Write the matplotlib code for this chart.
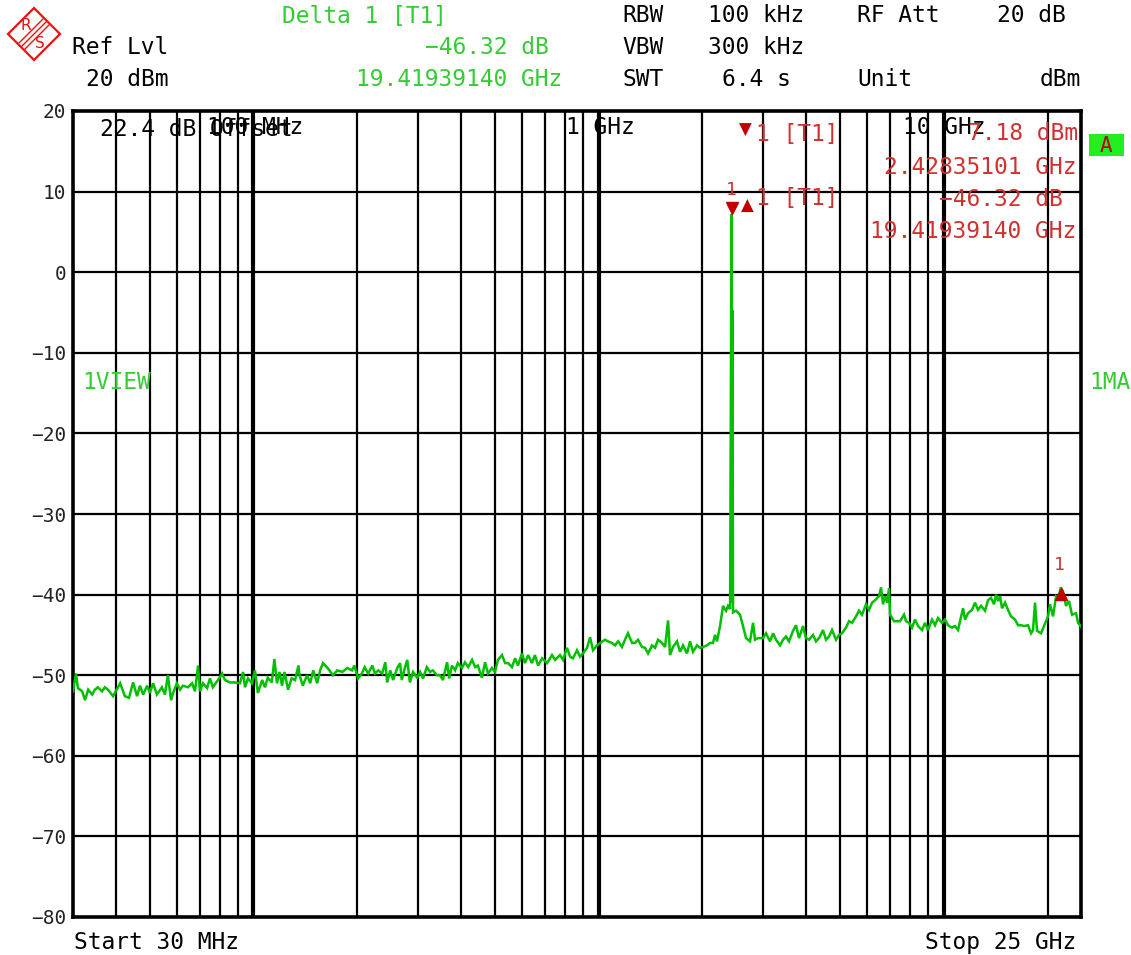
import numpy as np
import matplotlib
matplotlib.use("Agg")
import matplotlib.pyplot as plt
import matplotlib.transforms as mtransforms
from matplotlib.patches import Polygon, Rectangle

W, H = 1131, 955

# ---------------------------------------------------------------------------
# trace data (frequency in MHz, level in dBm)
# ---------------------------------------------------------------------------
freq_a = [30.0, 30.6, 31.0, 31.9, 32.5, 33.2, 34.1, 34.7, 35.4, 36.4,
          37.1, 37.9, 39.2, 41.1, 42.4, 43.6, 44.8, 46.0, 46.9, 47.9,
          49.2, 50.1, 51.2, 52.5, 54.3, 55.4, 56.5, 57.7, 58.5, 60.0,
          61.3, 62.5, 64.6, 66.4, 67.7, 69.1, 70.0, 71.4, 73.4, 74.8,
          76.3, 78.9, 81.1, 82.7, 85.5, 88.4, 91.4, 93.3, 94.5, 96.4]
level_a = [-52.0, -49.8, -51.6, -52.0, -53.1, -51.8, -52.4, -51.8, -51.5, -52.0,
           -51.5, -51.8, -52.6, -51.0, -52.6, -52.8, -50.9, -52.6, -51.3, -52.4,
           -51.3, -52.2, -51.0, -52.4, -51.5, -52.4, -50.0, -53.1, -52.2, -51.0,
           -51.8, -51.3, -51.5, -51.0, -52.0, -48.8, -52.0, -51.0, -51.6, -50.4,
           -51.5, -50.6, -49.8, -50.6, -50.9, -50.9, -51.0, -49.6, -51.5, -50.4]

freq_b = [99.0, 101, 103, 106, 108, 110, 113, 115, 117, 119,
          121, 123, 126, 129, 132, 135, 136, 139, 143, 146,
          149, 153, 156, 159, 164, 170, 175, 181, 187, 193,
          196, 201, 206, 210, 215, 221, 225, 230, 236, 241,
          244, 249, 254, 261, 266, 269, 275, 279, 284, 290,
          298, 304]
level_b = [-51.0, -49.4, -52.2, -50.6, -51.5, -50.3, -50.9, -48.0, -51.0, -49.6,
           -51.3, -49.6, -51.8, -50.4, -50.6, -48.8, -50.0, -51.3, -50.0, -51.0,
           -49.4, -51.0, -49.4, -48.5, -49.1, -50.0, -49.4, -49.6, -49.1, -49.4,
           -48.8, -50.4, -49.8, -49.0, -49.8, -48.8, -49.8, -49.4, -49.8, -48.4,
           -50.9, -49.4, -50.6, -49.1, -48.5, -50.6, -49.0, -48.1, -50.9, -49.6,
           -50.3, -49.6]

freq_c = [310, 318, 325, 331, 340, 347, 354, 364, 369, 376,
          384, 391, 402, 410, 419, 430, 439, 447, 459, 469,
          478, 491, 501, 511, 525, 536, 547, 561, 573, 584,
          600, 612, 625, 641, 654, 668, 686, 709, 733, 748,
          773, 789, 810, 827, 843, 866, 884, 901, 926, 945,
          964, 990, 1010]
level_c = [-50.4, -49.0, -49.6, -49.4, -50.0, -50.0, -50.6, -48.4, -50.4, -48.8,
           -49.4, -48.5, -49.1, -48.4, -49.0, -48.1, -49.0, -48.8, -50.3, -48.4,
           -49.8, -49.1, -49.6, -48.1, -47.5, -48.5, -48.5, -49.0, -47.9, -48.8,
           -47.3, -48.5, -47.5, -48.5, -47.5, -48.8, -47.9, -48.5, -47.5, -48.1,
           -47.5, -48.1, -46.6, -47.7, -47.9, -46.9, -47.7, -47.3, -46.6, -45.3,
           -46.9, -46.3, -46.0]

freq_d = [1044, 1065, 1094, 1116, 1139, 1169, 1193, 1217, 1250, 1275,
          1301, 1336, 1363, 1391, 1429, 1458, 1487, 1527, 1558, 1590,
          1611, 1643, 1688, 1722, 1757, 1804, 1841, 1878, 1929, 1968,
          2008, 2062, 2104, 2146, 2175, 2204, 2249, 2294, 2341, 2372,
          2405, 2428.35, 2436, 2442, 2453]
level_d = [-45.6, -45.8, -46.0, -46.3, -45.8, -46.5, -45.6, -44.8, -46.0, -46.0,
           -45.6, -46.5, -46.6, -47.3, -46.3, -46.6, -45.6, -46.0, -46.5, -43.2,
           -47.5, -46.5, -45.8, -47.1, -46.3, -47.3, -45.8, -47.1, -46.3, -46.6,
           -46.5, -46.3, -46.0, -46.0, -45.0, -45.8, -43.9, -41.4, -42.0, -41.4,
           -41.8, 7.18, -41.0, -4.7, -42.2]

freq_e = [2502, 2570, 2622, 2675, 2747, 2803, 2840, 2898, 2996, 3056,
          3139, 3203, 3267, 3356, 3424, 3493, 3563, 3660, 3734, 3809,
          3912, 3991, 4072, 4182, 4267, 4353, 4471, 4561, 4654, 4748,
          4876, 4975, 5075, 5212, 5318, 5425, 5572, 5685, 5800, 5957,
          6077, 6200, 6325, 6496, 6584, 6672, 6762, 6853, 6945, 6991,
          7180, 7325, 7473, 7676, 7779, 7936, 8096, 8260, 8427, 8655,
          8830, 9008, 9252, 9439, 9630, 9891, 10091, 10295, 10573, 10787,
          11005, 11379, 11531, 11764, 12083, 12327, 12576, 12831, 13178, 13444,
          13716, 13994, 14182, 14372, 14565, 14761, 15059, 15364, 15674, 16098,
          16424, 16756, 17095, 17557, 17912, 18152, 18396, 18643, 19148, 19535,
          20063, 20333, 20744, 21164, 21500, 21848, 22180, 22625, 23082, 23549,
          24186, 24510, 24840, 25000]
level_e = [-42.0, -42.5, -43.9, -45.4, -45.8, -43.5, -45.6, -45.4, -45.4, -44.8,
           -45.8, -44.8, -45.6, -46.3, -45.6, -45.2, -45.8, -44.5, -43.8, -45.4,
           -43.9, -45.4, -45.6, -45.0, -45.8, -45.4, -44.4, -45.6, -45.2, -44.4,
           -45.6, -45.0, -44.8, -44.1, -43.3, -43.5, -42.7, -42.0, -42.5, -41.2,
           -41.9, -41.0, -40.7, -40.2, -39.1, -41.2, -40.2, -41.0, -39.2, -42.5,
           -43.3, -43.3, -43.3, -42.5, -43.3, -43.5, -44.1, -43.1, -43.9, -44.4,
           -43.5, -44.4, -43.1, -43.8, -42.9, -43.5, -43.1, -43.8, -44.1, -43.9,
           -44.4, -41.7, -43.1, -42.3, -41.9, -41.0, -41.9, -41.4, -42.0, -40.7,
           -40.4, -41.2, -40.0, -40.8, -40.2, -41.7, -41.0, -41.9, -42.7, -43.1,
           -43.8, -43.8, -43.9, -43.8, -44.8, -44.4, -41.0, -44.5, -44.8, -43.9,
           -42.7, -41.2, -42.7, -40.2, -40.4, -39.1, -39.6, -41.4, -40.8, -42.5,
           -42.3, -43.5, -43.8, -44.0]

freq = np.array(freq_a + freq_b + freq_c + freq_d + freq_e)
level = np.array(level_a + level_b + level_c + level_d + level_e)

# markers
marker1_freq = 2428.35101      # MHz
marker1_level = 7.18           # dBm
delta1_freq = marker1_freq + 19419.39140
delta1_level = marker1_level - 46.32

y_ticks = [20, 10, 0, -10, -20, -30, -40, -50, -60, -70, -80]

# colours
GREEN = '#00c000'
TXT_GREEN = '#33cc33'
RED = '#c00000'
TXT_RED = '#d03030'
MONO = 'DejaVu Sans Mono'

fig = plt.figure(figsize=(W / 100, H / 100), dpi=100)
fig.patch.set_facecolor('white')
ax = fig.add_axes([73 / W, 1 - 917 / H, 1008 / W, 806 / H])

ax.set_xscale('log')
ax.set_xlim(30, 25000)
ax.set_ylim(-80, 20)

# grid (analyzer graticule)
for dec in [10, 100, 1000, 10000]:
    for m in range(1, 10):
        f = dec * m
        if f <= 30 or f >= 25000:
            continue
        lw = 3.0 if m == 1 else 1.6
        ax.axvline(f, color='black', lw=lw, zorder=1)
for yv in y_ticks[1:-1]:
    ax.axhline(yv, color='black', lw=1.6, zorder=1)

ax.plot(freq, level, color=GREEN, lw=1.8, zorder=3, solid_joinstyle='miter')

# marker symbols
up = mtransforms.offset_copy(ax.transData, fig=fig, x=0, y=6, units='dots')
dn = mtransforms.offset_copy(ax.transData, fig=fig, x=0, y=-6, units='dots')
ax.plot([marker1_freq], [marker1_level], marker='v', ms=9, color=RED,
        transform=up, zorder=5, clip_on=False)
ax.plot([delta1_freq], [delta1_level], marker='^', ms=9, color=RED,
        transform=dn, zorder=5, clip_on=False)

ax.set_xticks([])
ax.minorticks_off()
ax.set_yticks(y_ticks)
ax.set_yticklabels([str(v).replace('-', '\u2212') for v in y_ticks],
                   family=MONO, fontsize=14, color='#222222')
ax.tick_params(axis='y', length=0, pad=5)
for sp in ax.spines.values():
    sp.set_linewidth(2.6)
    sp.set_color('black')


def ftext(x, y, s, color='black', ha='left', size=16.5, **kw):
    fig.text(x / W, 1 - y / H, s, color=color, ha=ha, va='center',
             fontsize=size, family=MONO, **kw)


# header
ftext(282, 16, 'Delta 1 [T1]', TXT_GREEN)
ftext(72, 48, 'Ref Lvl')
ftext(86, 80, '20 dBm')
ftext(549, 48, '\u221246.32 dB', TXT_GREEN, ha='right')
ftext(562, 80, '19.41939140 GHz', TXT_GREEN, ha='right')
ftext(622, 16, 'RBW')
ftext(708, 16, '100 kHz')
ftext(857, 16, 'RF Att')
ftext(1066, 16, '20 dB', ha='right')
ftext(622, 48, 'VBW')
ftext(708, 48, '300 kHz')
ftext(622, 80, 'SWT')
ftext(722, 80, '6.4 s')
ftext(857, 80, 'Unit')
ftext(1081, 80, 'dBm', ha='right')

# labels inside the graticule
ftext(100, 129, '22.4 dB Offset')
ftext(207, 127, '100 MHz')
ftext(566, 127, '1 GHz')
ftext(903, 127, '10 GHz')
ftext(82, 382, '1VIEW', TXT_GREEN)
ftext(1089, 382, '1MA', TXT_GREEN)

# marker info block
fig.text(745 / W, 1 - 130 / H, '\u25bc', color=RED, ha='center', va='center',
         fontsize=12, family='DejaVu Sans')
fig.text(747 / W, 1 - 206 / H, '\u25b2', color=RED, ha='center', va='center',
         fontsize=12, family='DejaVu Sans')
ftext(756, 134, '1 [T1]', TXT_RED)
ftext(756, 199, '1 [T1]', TXT_RED)
ftext(1078, 134, '7.18 dBm', TXT_RED, ha='right')
ftext(1076, 167, '2.42835101 GHz', TXT_RED, ha='right')
ftext(1063, 199, '\u221246.32 dB', TXT_RED, ha='right')
ftext(1076, 231, '19.41939140 GHz', TXT_RED, ha='right')
ftext(731, 190, '1', TXT_RED, ha='center', size=13)
ftext(1059, 565, '1', TXT_RED, ha='center', size=13)

# footer
ftext(74, 942, 'Start 30 MHz')
ftext(1076, 942, 'Stop 25 GHz', ha='right')

# "A" box
fig.patches.append(Rectangle((1089 / W, 1 - 156 / H), 35 / W, 22 / H,
                             transform=fig.transFigure, facecolor='#22ee22',
                             edgecolor='none'))
ftext(1106, 146, 'A', RED, ha='center', size=15)

# R&S logo
cx, cy, r = 34, 34, 26
diamond = [((cx) / W, 1 - (cy - r) / H), ((cx + r) / W, 1 - cy / H),
           (cx / W, 1 - (cy + r) / H), ((cx - r) / W, 1 - cy / H)]
fig.patches.append(Polygon(diamond, closed=True, transform=fig.transFigure,
                           fill=False, edgecolor='#ee1111', lw=1.6))
for k in (-3, 0, 3):
    fig.lines.append(plt.Line2D([(cx - 12 + k) / W, (cx + 12 + k) / W],
                                [1 - (cy + 12 + k) / H, 1 - (cy - 12 + k) / H],
                                transform=fig.transFigure, color='#ee1111', lw=1.0))
fig.text((cx - 8) / W, 1 - (cy - 8) / H, 'R', color='#ee1111', fontsize=11,
         ha='center', va='center', family='DejaVu Sans')
fig.text((cx + 6) / W, 1 - (cy + 9) / H, 'S', color='#ee1111', fontsize=11,
         ha='center', va='center', family='DejaVu Sans')

fig.savefig('out.png', dpi=100, facecolor='white')
